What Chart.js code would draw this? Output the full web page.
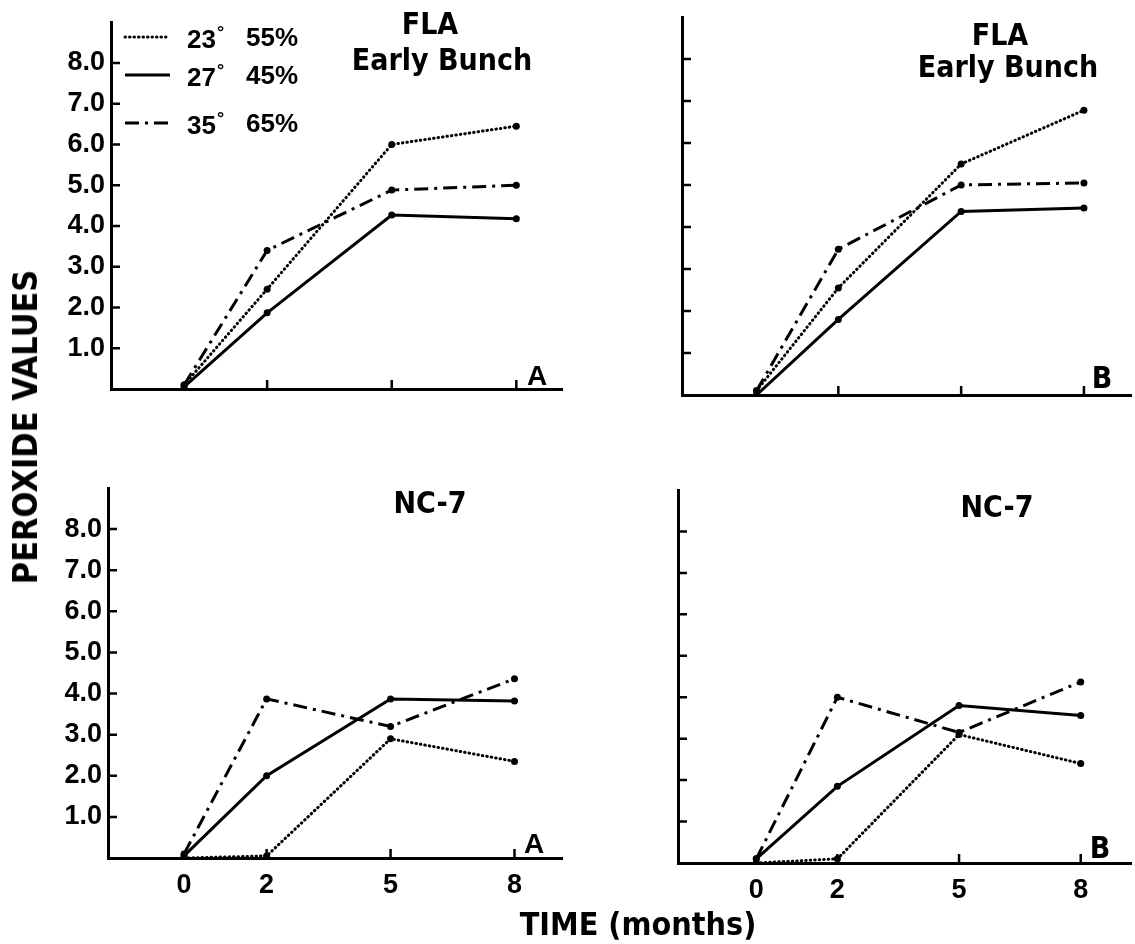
<!DOCTYPE html>
<html>
<head>
<meta charset="utf-8">
<script src="https://cdn.jsdelivr.net/npm/chart.js@4.4.0/dist/chart.umd.min.js"></script>
<style>
  body { margin: 0; background: #fff; }
  #page { position: relative; width: 1135px; height: 944px; overflow: hidden; background: #fff; color: #000;
          font-family: "Liberation Sans", Arial, sans-serif; }
  canvas { position: absolute; }
  .lbl { position: absolute; transform: translate(-50%, -50%); white-space: nowrap; font-weight: bold; line-height: 1; }
  .cond { font-family: "Liberation Sans Narrow", "DejaVu Sans Condensed", sans-serif; }
  .leg { position: absolute; transform: translate(0, -50%); white-space: nowrap; font-weight: bold; font-size: 26px; line-height: 1; }
  .leg sup { font-size: 18px; vertical-align: 10px; margin-left: 1px; }
</style>
</head>
<body>
<div id="page">
  <canvas id="flaA" width="570" height="420" style="left:0;top:0"></canvas>
  <canvas id="flaB" width="565" height="420" style="left:570px;top:0"></canvas>
  <canvas id="ncA" width="570" height="504" style="left:0;top:440px"></canvas>
  <canvas id="ncB" width="565" height="504" style="left:570px;top:440px"></canvas>

  <!-- títulos dos painéis -->
  <div class="lbl cond" style="left:430px;top:24px;font-size:30px">FLA</div>
  <div class="lbl cond" style="left:442px;top:60px;font-size:30px">Early Bunch</div>
  <div class="lbl cond" style="left:1000px;top:35px;font-size:30px">FLA</div>
  <div class="lbl cond" style="left:1008px;top:67px;font-size:30px">Early Bunch</div>
  <div class="lbl cond" style="left:430px;top:503px;font-size:30px">NC-7</div>
  <div class="lbl cond" style="left:997px;top:507px;font-size:30px">NC-7</div>

  <div class="lbl" style="left:537px;top:376px;font-size:28px">A</div>
  <div class="lbl cond" style="left:1102px;top:378px;font-size:30px">B</div>
  <div class="lbl" style="left:534px;top:844px;font-size:28px">A</div>
  <div class="lbl cond" style="left:1100px;top:848px;font-size:30px">B</div>

  <div class="lbl cond" style="left:25px;top:427px;font-size:34px;transform:translate(-50%,-50%) rotate(-90deg)">PEROXIDE VALUES</div>
  <div class="lbl cond" style="left:638px;top:924px;font-size:32px">TIME (months)</div>

  <div id="legendText"></div>
</div>

<script>
// Meses
const months = [0, 2, 5, 8];
const yTickValues = [1, 2, 3, 4, 5, 6, 7, 8];

// Legenda: temperatura / umidade
const tempLabels = ['23', '27', '35'];
const humidityLabels = ['55%', '45%', '65%'];

// FLA Early Bunch - A
const flaA23 = [0.1, 2.45, 6.0, 6.45];
const flaA27 = [0.05, 1.87, 4.27, 4.18];
const flaA35 = [0.1, 3.4, 4.88, 5.0];

// FLA Early Bunch - B
const flaB23 = [0.1, 2.55, 5.5, 6.78];
const flaB27 = [0.0, 1.8, 4.37, 4.45];
const flaB35 = [0.1, 3.47, 5.0, 5.05];

// NC-7 - A
const ncA23 = [0.0, 0.05, 2.9, 2.35];
const ncA27 = [0.05, 2.0, 3.87, 3.82];
const ncA35 = [0.1, 3.87, 3.2, 4.36];

// NC-7 - B
const ncB23 = [0.0, 0.1, 3.1, 2.4];
const ncB27 = [0.1, 1.85, 3.8, 3.56];
const ncB35 = [0.1, 4.0, 3.15, 4.37];

// estilos: pontilhado, contínuo, traço-ponto
const dashes = [[0.5, 4], [], [14, 6, 3, 6]];
const caps = ['round', 'butt', 'butt'];

const tickFont = { family: '"Liberation Sans", Arial, sans-serif', size: 27, weight: 'bold' };

// ticks pra dentro do gráfico
const inwardTicks = {
    id: 'inwardTicks',
    afterDraw(chart) {
        const { ctx, chartArea: a, scales: { x, y } } = chart;
        ctx.save();
        ctx.strokeStyle = '#000';
        ctx.lineWidth = 2.5;
        ctx.beginPath();
        y.ticks.forEach(t => {
            const py = y.getPixelForValue(t.value);
            ctx.moveTo(a.left, py);
            ctx.lineTo(a.left + 9, py);
        });
        x.ticks.forEach(t => {
            if (t.value <= 0) return;
            const px = x.getPixelForValue(t.value);
            ctx.moveTo(px, a.bottom);
            ctx.lineTo(px, a.bottom - 9);
        });
        ctx.stroke();
        ctx.restore();
    }
};

// amostras de linha da legenda (só no painel A de cima)
const sampleLegend = {
    id: 'sampleLegend',
    afterDraw(chart, args, opts) {
        if (!opts || !opts.rows) return;
        const ctx = chart.ctx;
        chart.data.datasets.forEach((ds, i) => {
            ctx.save();
            ctx.strokeStyle = '#000';
            ctx.lineWidth = ds.borderWidth;
            ctx.setLineDash(ds.borderDash || []);
            ctx.lineCap = ds.borderCapStyle || 'butt';
            ctx.beginPath();
            ctx.moveTo(opts.x0, opts.rows[i]);
            ctx.lineTo(opts.x1, opts.rows[i]);
            ctx.stroke();
            ctx.restore();
        });
    }
};

function panel(id, series, cfg) {
    return new Chart(document.getElementById(id), {
        type: 'line',
        data: {
            datasets: series.map((vals, i) => ({
                label: tempLabels[i] + '° ' + humidityLabels[i],
                data: months.map((m, j) => ({ x: m, y: vals[j] })),
                borderColor: '#000',
                backgroundColor: '#000',
                borderWidth: 3,
                borderDash: dashes[i],
                borderCapStyle: caps[i],
                pointRadius: 3.5,
                pointBorderWidth: 0,
                pointBackgroundColor: '#000',
                tension: 0,
                fill: false
            }))
        },
        options: {
            responsive: false,
            animation: false,
            events: [],
            layout: { padding: { top: cfg.top, right: cfg.right, left: 0, bottom: 0 } },
            plugins: {
                legend: { display: false },
                tooltip: { enabled: false },
                sampleLegend: cfg.legend || {}
            },
            scales: {
                x: {
                    type: 'linear',
                    min: cfg.xMin,
                    max: cfg.xMax,
                    afterBuildTicks: s => { s.ticks = months.map(v => ({ value: v })); },
                    afterFit: s => { s.height = cfg.xHeight; },
                    grid: { drawOnChartArea: false, drawTicks: false },
                    border: { display: true, color: '#000', width: 3 },
                    ticks: { display: cfg.xLabels, padding: 11, color: '#000', font: tickFont, callback: v => String(v) }
                },
                y: {
                    type: 'linear',
                    min: 0,
                    max: 9,
                    afterBuildTicks: s => { s.ticks = yTickValues.map(v => ({ value: v })); },
                    afterFit: s => { s.width = cfg.yWidth; },
                    grid: { drawOnChartArea: false, drawTicks: false },
                    border: { display: true, color: '#000', width: 3 },
                    ticks: { display: cfg.yLabels, padding: 6, color: '#000', font: tickFont, callback: v => v.toFixed(1) }
                }
            }
        },
        plugins: [inwardTicks, sampleLegend]
    });
}

panel('flaA', [flaA23, flaA27, flaA35], {
    top: 13, right: 8, xHeight: 31, yWidth: 111, xMin: -1.76, xMax: 9.1,
    xLabels: false, yLabels: true,
    legend: { rows: [37, 75, 123], x0: 125, x1: 170 }
});
panel('flaB', [flaB23, flaB27, flaB35], {
    top: 17, right: 0, xHeight: 25, yWidth: 112, xMin: -1.82, xMax: 9.15,
    xLabels: false, yLabels: false
});
panel('ncA', [ncA23, ncA27, ncA35], {
    top: 48, right: 8, xHeight: 86, yWidth: 108, xMin: -1.84, xMax: 9.15,
    xLabels: true, yLabels: true
});
panel('ncB', [ncB23, ncB27, ncB35], {
    top: 50, right: 0, xHeight: 81, yWidth: 108, xMin: -1.93, xMax: 9.24,
    xLabels: true, yLabels: false
});

// texto da legenda
const legendRows = [37, 75, 123];
document.getElementById('legendText').innerHTML = tempLabels.map((t, i) =>
    `<div class="leg" style="left:187px;top:${legendRows[i]}px">${t}<sup>°</sup></div>` +
    `<div class="leg" style="left:246px;top:${legendRows[i]}px">${humidityLabels[i]}</div>`
).join('');
</script>
</body>
</html>
